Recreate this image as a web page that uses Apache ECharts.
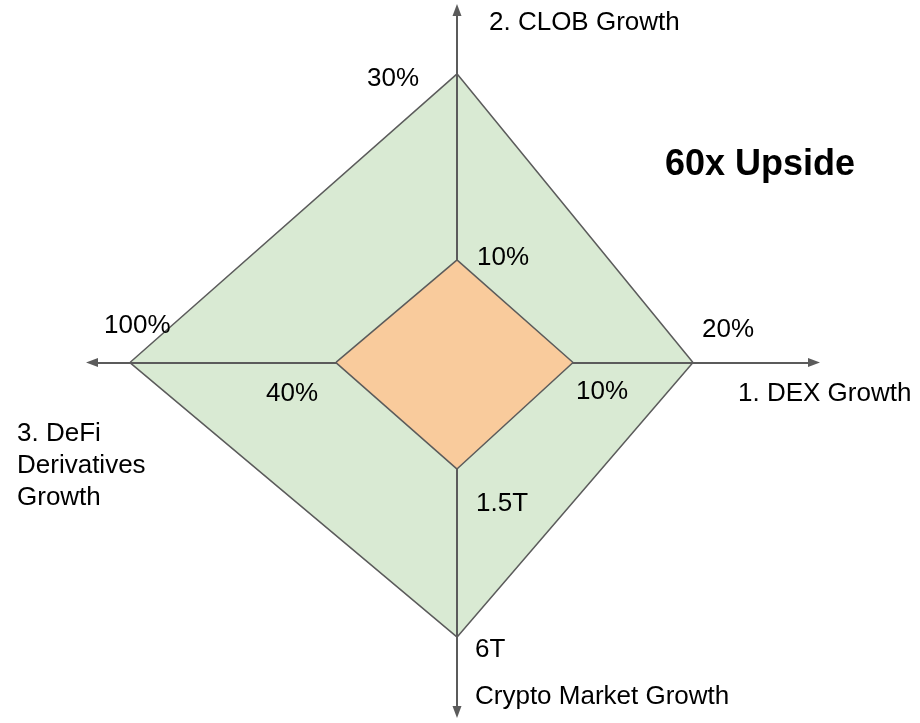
<!DOCTYPE html>
<html>
<head>
<meta charset="utf-8">
<script src="https://cdn.jsdelivr.net/npm/echarts@6/dist/echarts.min.js"></script>
<style>
  html, body { margin: 0; padding: 0; background: #fff; }
  #chart { width: 920px; height: 723px; }
</style>
</head>
<body>
<div id="chart"></div>
<script>
// arms in radar order: top, left, bottom, right
const axisNames = ['2. CLOB Growth', '3. DeFi\nDerivatives\nGrowth', 'Crypto Market Growth', '1. DEX Growth']
const units = ['%', '%', 'T', '%']
const outerValues = [30, 100, 6, 20]
const innerValues = [10, 40, 1.5, 10]
const headline = '60x Upside'

const fontFamily = '"Liberation Sans", Arial, sans-serif'
const lineColor = '#5b5b5b'

// the drawing is not to scale, so every arm gets its own range
const indicator = [
  { name: axisNames[0], min: -0.914, max: 35.64 },
  { name: axisNames[1], min: 5.05, max: 104.08 },
  { name: axisNames[2], min: -1.326, max: 7.78 },
  { name: axisNames[3], min: 0.417, max: 28.75 }
]

// value label offset from its corner (left edge, text middle)
const outerLabelPos = [[-90, 3.5], [-27, -36.5], [18, 14], [10, -33]]
const innerLabelPos = [[20, -3.5], [-71, 31.5], [19, 35.5], [4, 29.5]]

// axis name anchors (left edge, text middle)
const namePos = [[489, 22.5], [17, 465.5], [475, 696.5], [738, 394]]

// one invisible item per corner, so each label can sit where it wants
function labelItems(values, offsets) {
  return offsets.map((off, k) => ({
    value: values,
    label: {
      position: [off[0] + 1, off[1] + 1],
      formatter: p => (p.dimensionIndex === k ? p.value + units[k] : '')
    }
  }))
}

const hiddenAxis = {
  axisTick: { show: false },
  axisLabel: { show: false },
  splitLine: { show: false },
  z: 3
}
const arrowLine = {
  onZero: true,
  symbol: ['triangle', 'triangle'],
  symbolSize: [9, 12],
  lineStyle: { color: lineColor, width: 2 }
}

const chart = echarts.init(document.getElementById('chart'))
chart.setOption({
  animation: false,
  grid: { left: 92, right: 106, top: 10, bottom: 11 },
  xAxis: Object.assign({ type: 'value', min: -365, max: 357, axisLine: arrowLine }, hiddenAxis),
  yAxis: Object.assign({ type: 'value', min: -349.5, max: 352.5, axisLine: arrowLine }, hiddenAxis),
  radar: {
    center: [457, 362.5],
    radius: 340,
    startAngle: 90,
    indicator,
    axisName: { show: false },
    axisLine: { show: false },
    axisTick: { show: false },
    axisLabel: { show: false },
    splitLine: { show: false },
    splitArea: { show: false }
  },
  graphic: axisNames.map((t, i) => ({
    type: 'text',
    x: namePos[i][0],
    y: namePos[i][1],
    style: {
      text: t,
      font: '26px ' + fontFamily,
      fill: '#000',
      align: 'left',
      verticalAlign: 'middle',
      lineHeight: 32
    }
  })).concat([{
    type: 'text',
    x: 665,
    y: 165.5,
    style: {
      text: headline,
      font: 'bold 36px ' + fontFamily,
      fill: '#000',
      align: 'left',
      verticalAlign: 'middle'
    }
  }]),
  series: [
    {
      type: 'radar',
      z: 2,
      silent: true,
      symbol: 'none',
      lineStyle: { color: lineColor, width: 3 },
      areaStyle: { color: '#d9ead3', opacity: 1 },
      data: [{ value: outerValues }]
    },
    {
      type: 'radar',
      z: 4,
      silent: true,
      symbol: 'none',
      lineStyle: { color: lineColor, width: 3 },
      areaStyle: { color: '#f9cb9c', opacity: 1 },
      data: [{ value: innerValues }]
    },
    {
      type: 'radar',
      z: 5,
      silent: true,
      symbolSize: 2,
      itemStyle: { color: 'rgba(0,0,0,0)' },
      lineStyle: { opacity: 0 },
      label: {
        show: true,
        color: '#000',
        fontSize: 26,
        fontFamily,
        align: 'left',
        verticalAlign: 'middle'
      },
      data: labelItems(outerValues, outerLabelPos).concat(labelItems(innerValues, innerLabelPos))
    }
  ]
})
</script>
</body>
</html>
